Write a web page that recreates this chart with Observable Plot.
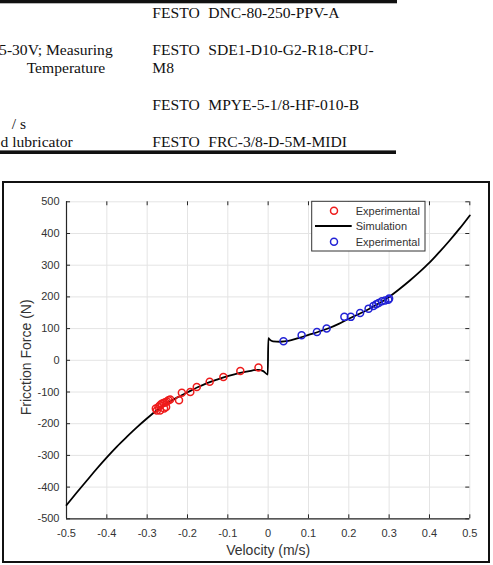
<!DOCTYPE html>
<html>
<head>
<meta charset="utf-8">
<script src="https://cdn.jsdelivr.net/npm/d3@7"></script>
<script src="https://cdn.jsdelivr.net/npm/@observablehq/plot@0.6"></script>
<style>
html, body { margin: 0; padding: 0; background: #fff; }
#page { position: relative; width: 493px; height: 565px; overflow: hidden; background: #fff; }
#table { position: absolute; left: 0; top: 0; }
#frame { position: absolute; left: 2px; top: 181px; width: 484px; height: 378px; border: 2px solid #111; }
#chart { position: absolute; left: 0; top: 182px; }
#legend { position: absolute; left: 0; top: 0; pointer-events: none; }
</style>
</head>
<body>
<div id="page">
  <svg id="table" width="493" height="160"></svg>
  <div id="frame"></div>
  <div id="chart"></div>
  <svg id="legend" width="493" height="565"></svg>
</div>
<script>
// ---- table fragment text (above the chart) ----
const tableLeft = ["5-30V; Measuring", "Temperature", "/ s", "d lubricator"];
const tableBrand = ["FESTO", "FESTO", "M8", "FESTO", "FESTO"];
const tableModel = ["DNC-80-250-PPV-A", "SDE1-D10-G2-R18-CPU-", "MPYE-5-1/8-HF-010-B", "FRC-3/8-D-5M-MIDI"];

// ---- chart data ----
const velocityTicks = [-0.5, -0.4, -0.3, -0.2, -0.1, 0, 0.1, 0.2, 0.3, 0.4, 0.5];
const forceTicks = [-500, -400, -300, -200, -100, 0, 100, 200, 300, 400, 500];

const simV = [-0.5, -0.475, -0.45, -0.425, -0.4, -0.375, -0.35, -0.325, -0.3, -0.275, -0.25, -0.225, -0.2, -0.175, -0.15, -0.125, -0.1, -0.075, -0.05, -0.025, -0.012, -0.001,
              0.0005, 0.004, 0.012, 0.03, 0.05, 0.075, 0.1, 0.125, 0.15, 0.175, 0.2, 0.225, 0.25, 0.275, 0.3, 0.325, 0.35, 0.375, 0.4, 0.425, 0.45, 0.475, 0.5];
const simF = [-457, -418, -380, -342, -306, -272, -241, -211, -183, -157, -135, -117, -101, -85, -71, -60, -50, -41, -35, -30, -34, -45,
              70, 65, 60, 58.5, 61, 70, 80, 90, 101, 115, 131, 146, 162, 180, 200, 224, 250, 278, 308, 342, 378, 416, 457];

const expNegV = [-0.2785, -0.276, -0.272, -0.268, -0.268, -0.264, -0.2595, -0.258, -0.255, -0.253, -0.251, -0.247, -0.243, -0.221, -0.214, -0.193, -0.177, -0.145, -0.111, -0.069, -0.024];
const expNegF = [-152, -158, -147, -142, -158, -137, -135, -152, -132, -147, -130, -126, -124, -126, -102, -100, -84, -68, -53, -34, -23];

const expPosV = [0.038, 0.083, 0.121, 0.145, 0.189, 0.205, 0.228, 0.249, 0.261, 0.268, 0.274, 0.282, 0.290, 0.298, 0.300];
const expPosF = [60, 79, 89, 100, 137, 137, 149, 163, 171, 177, 181, 186, 189, 191, 195];

const legendLabels = ["Experimental", "Simulation", "Experimental"];
const xLabel = "Velocity (m/s)";
const yLabel = "Fricction Force (N)";

// ---- table drawing ----
(function () {
  const svg = d3.select("#table");
  const serif = "'Liberation Serif', 'Times New Roman', serif";
  svg.append("rect").attr("x", 0).attr("y", 0).attr("width", 397).attr("height", 3.3).attr("fill", "#111");
  svg.append("rect").attr("x", 0).attr("y", 150.4).attr("width", 396).attr("height", 3.6).attr("fill", "#111");
  const items = [
    {t: tableBrand[0], x: 152.3, y: 18.3},
    {t: tableModel[0], x: 208.3, y: 18.3},
    {t: tableLeft[0], x: 112.7, y: 55, a: "end"},
    {t: tableBrand[1], x: 152.3, y: 55},
    {t: tableModel[1], x: 208.3, y: 55},
    {t: tableLeft[1], x: 26.7, y: 73},
    {t: tableBrand[2], x: 152.3, y: 73},
    {t: tableBrand[3], x: 152.3, y: 110},
    {t: tableModel[2], x: 208.3, y: 110},
    {t: tableLeft[2], x: 11.7, y: 129},
    {t: tableLeft[3], x: 0.5, y: 146.7},
    {t: tableBrand[4], x: 152.3, y: 146.7},
    {t: tableModel[3], x: 208.3, y: 146.7}
  ];
  for (const it of items) {
    svg.append("text").attr("x", it.x).attr("y", it.y)
      .attr("text-anchor", it.a || "start")
      .attr("font-family", serif).attr("font-size", 15.6).attr("fill", "#111")
      .text(it.t);
  }
})();

// ---- chart ----
const sim = simV.map((v, i) => ({v, f: simF[i]}));
const expNeg = expNegV.map((v, i) => ({v, f: expNegF[i]}));
const expPos = expPosV.map((v, i) => ({v, f: expPosF[i]}));

const tickLenY = 12.5;   // inward tick length in force units
const tickLenX = 0.01;   // inward tick length in velocity units
const axisColor = "#262626";
const gridColor = "#e4e4e4";

const chart = Plot.plot({
  width: 493,
  height: 383,
  marginLeft: 66,
  marginRight: 23.7,
  marginTop: 19.3,
  marginBottom: 46.7,
  x: {domain: [-0.5, 0.5]},
  y: {domain: [-500, 500]},
  style: {fontFamily: "'Liberation Sans', Arial, sans-serif", fontSize: "11px", color: "#333", background: "transparent", overflow: "visible"},
  marks: [
    Plot.ruleX(velocityTicks, {stroke: gridColor, strokeWidth: 1}),
    Plot.ruleY(forceTicks, {stroke: gridColor, strokeWidth: 1}),
    Plot.ruleX(velocityTicks, {y1: -500, y2: -500 + tickLenY, stroke: axisColor}),
    Plot.ruleX(velocityTicks, {y1: 500, y2: 500 - tickLenY, stroke: axisColor}),
    Plot.ruleY(forceTicks, {x1: -0.5, x2: -0.5 + tickLenX, stroke: axisColor}),
    Plot.ruleY(forceTicks, {x1: 0.5, x2: 0.5 - tickLenX, stroke: axisColor}),
    Plot.ruleY([-500], {stroke: axisColor, strokeWidth: 1.2}),
    Plot.ruleX([-0.5], {stroke: axisColor, strokeWidth: 1.2}),
    Plot.axisX({ticks: velocityTicks, tickSize: 0, tickPadding: 10, tickFormat: d => String(d), label: null}),
    Plot.axisY({ticks: forceTicks, tickSize: 0, tickPadding: 7, tickFormat: d => String(d), label: null}),
    Plot.line(sim, {x: "v", y: "f", stroke: "#000", strokeWidth: 1.8, curve: "monotone-x"}),
    Plot.dot(expNeg, {x: "v", y: "f", r: 3.5, stroke: "#ee1b1b", strokeWidth: 1.5, fill: "none"}),
    Plot.dot(expPos, {x: "v", y: "f", r: 3.5, stroke: "#2222d6", strokeWidth: 1.5, fill: "none"}),
    Plot.text([xLabel], {text: d => d, frameAnchor: "bottom", textAnchor: "middle", lineAnchor: "middle", dy: 32, fontSize: 14, fill: "#333"}),
    Plot.text([yLabel], {text: d => d, frameAnchor: "left", textAnchor: "middle", lineAnchor: "middle", dx: -40, dy: -3, rotate: -90, fontSize: 14, fill: "#333"})
  ]
});
document.getElementById("chart").appendChild(chart);

// ---- legend ----
(function () {
  const svg = d3.select("#legend");
  const sans = "'Liberation Sans', Arial, sans-serif";
  svg.append("rect").attr("x", 311.7).attr("y", 201.3).attr("width", 113.3).attr("height", 49.7)
    .attr("fill", "#fff").attr("stroke", "#333").attr("stroke-width", 1);
  svg.append("circle").attr("cx", 334).attr("cy", 210.7).attr("r", 3.5)
    .attr("fill", "none").attr("stroke", "#ee1b1b").attr("stroke-width", 1.5);
  svg.append("line").attr("x1", 315).attr("x2", 351.7).attr("y1", 226).attr("y2", 226)
    .attr("stroke", "#000").attr("stroke-width", 1.8);
  svg.append("circle").attr("cx", 334).attr("cy", 241.7).attr("r", 3.5)
    .attr("fill", "none").attr("stroke", "#2222d6").attr("stroke-width", 1.5);
  const ys = [210.7, 226, 241.7];
  legendLabels.forEach((t, i) => {
    svg.append("text").attr("x", 355.7).attr("y", ys[i]).attr("dy", "0.35em")
      .attr("font-family", sans).attr("font-size", 11).attr("fill", "#333").text(t);
  });
})();
</script>
</body>
</html>
